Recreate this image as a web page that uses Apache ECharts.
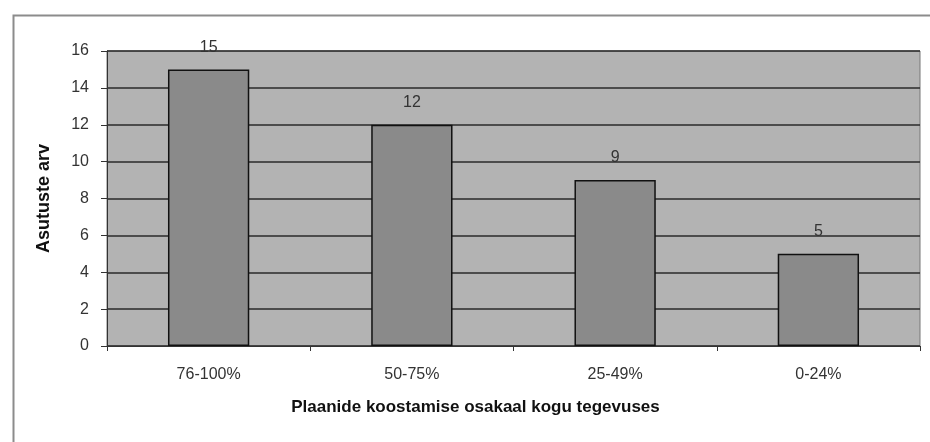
<!DOCTYPE html>
<html><head><meta charset="utf-8">
<script src="https://cdn.jsdelivr.net/npm/echarts@6/dist/echarts.min.js"></script>
<style>html,body{margin:0;padding:0;background:#fff}#c{width:930px;height:442px}</style>
</head><body><div id="c"></div>
<script>
const categories = ['76-100%', '50-75%', '25-49%', '0-24%'];
const values = [15, 12, 9, 5];
const yTicks = [0, 2, 4, 6, 8, 10, 12, 14, 16];

const chart = echarts.init(document.getElementById('c'), null, {renderer: 'canvas'});
chart.setOption({
  animation: false,
  backgroundColor: '#ffffff',
  graphic: [{
    type: 'rect', left: 11, top: 13,
    shape: {width: 940, height: 460},
    style: {fill: 'none', stroke: '#8c8c8c', lineWidth: 2}, silent: true
  }],
  grid: {left: 107, top: 51, right: 10, bottom: 96, show: true, backgroundColor: '#b3b3b3', borderColor: '#777', borderWidth: 1},
  xAxis: {
    type: 'category', data: categories,
    name: 'Plaanide koostamise osakaal kogu tegevuses',
    nameLocation: 'middle', nameGap: 53,
    nameTextStyle: {fontFamily: 'Liberation Sans', fontSize: 17, fontWeight: 'bold', color: '#111', padding: [0, 76, 0, 0]},
    axisLine: {lineStyle: {color: '#333', width: 1}},
    axisTick: {show: true, length: 5, lineStyle: {color: '#333'}},
    axisLabel: {fontFamily: 'Liberation Sans', fontSize: 16, color: '#333', margin: 21}
  },
  yAxis: {
    type: 'value', min: yTicks[0], max: yTicks[yTicks.length - 1], interval: 2,
    name: 'Asutuste arv', nameLocation: 'middle', nameGap: 54, nameRotate: 90,
    nameTextStyle: {fontFamily: 'Liberation Sans', fontSize: 18, fontWeight: 'bold', color: '#111'},
    axisLine: {show: true, lineStyle: {color: '#333', width: 1}},
    axisTick: {show: true, length: 6, lineStyle: {color: '#333'}},
    axisLabel: {fontFamily: 'Liberation Sans', fontSize: 16, color: '#333', margin: 18},
    splitLine: {show: true, lineStyle: {color: '#2a2a2a', width: 1.5}}
  },
  series: [{
    type: 'bar', data: values, barWidth: '40%',
    itemStyle: {color: '#8a8a8a', borderColor: '#111', borderWidth: 1.5},
    label: {show: true, position: 'top', distance: 14, fontFamily: 'Liberation Sans', fontSize: 16, color: '#333'}
  }]
});
</script></body></html>
